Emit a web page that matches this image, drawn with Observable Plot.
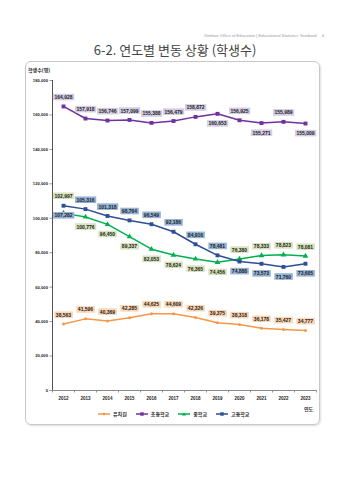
<!DOCTYPE html>
<html><head><meta charset="utf-8">
<script src="https://cdn.jsdelivr.net/npm/d3@7"></script>
<script src="https://cdn.jsdelivr.net/npm/@observablehq/plot@0.6"></script>
<style>
body{margin:0;background:#fff;width:350px;height:480px;position:relative;overflow:hidden;font-family:"Liberation Sans","Noto Sans CJK KR",sans-serif;}
.abs{position:absolute;white-space:nowrap;}
#box{position:absolute;left:25px;top:61px;width:293px;height:362px;border:1px solid #c8c8c8;border-radius:6px;box-shadow:1px 1px 2px #ddd;}
#legend span{display:inline-flex;align-items:center;margin-right:9px;}
</style></head>
<body>
<div class="abs" style="right:26px;top:33px;font-size:4.2px;color:#999;">Gimhae Office of Education | Educational Statistics Yearbook &nbsp;&nbsp; 4</div>
<div class="abs" style="left:0;width:350px;top:40px;text-align:center;font-size:13px;color:#444;font-family:'Noto Sans CJK KR',sans-serif;">6-2. 연도별 변동 상황 (학생수)</div>
<div id="box"></div>
<div class="abs" style="left:28px;top:66px;font-size:5px;font-weight:bold;color:#222;font-family:'Noto Sans CJK KR',sans-serif;">학생수(명)</div>
<div id="chart" class="abs" style="left:0;top:62px;"></div>
<div class="abs" style="left:304px;top:405px;font-size:5px;font-weight:bold;color:#333;font-family:'Noto Sans CJK KR',sans-serif;">연도</div>
<div id="legend" class="abs" style="left:98px;top:410px;font-size:5px;font-weight:bold;color:#222;font-family:'Noto Sans CJK KR',sans-serif;"></div>
<script>
const years = [2012,2013,2014,2015,2016,2017,2018,2019,2020,2021,2022,2023];
const seriesNames = ["유치원","초등학교","중학교","고등학교"];
const kinder = [38563,41596,40369,42285,44625,44609,42326,39375,38318,36178,35427,34777];
const elem   = [164928,157918,156746,157099,155388,156479,158872,160653,156925,155271,155989,155009];
const middle = [102997,100776,96450,89337,82053,78624,76365,74456,76380,78333,78823,78081];
const high   = [107282,105316,101318,98764,96549,92186,84916,78481,74888,73573,71760,73605];
const yTicks = [0,20000,40000,60000,80000,100000,120000,140000,160000,180000];

// label placement relative to each point: a = above, b = below, aa = far above
const kinderPlace = ["a","a","a","a","a","a","a","a","a","a","a","a"];
const elemPlace   = ["a","a","a","a","a","a","a","b","a","b","a","b"];
const middlePlace = ["aa","b","b","b","b","b","b","b","a","a","a","a"];
const highPlace   = ["b","a","a","a","a","a","a","a","b","b","b","b"];

const lineColors = ["#f79646","#7030a0","#00b050","#2e4e96"];
const boxColors  = ["#fcd5b4","#d4cde3","#d8e4bc","#95b3d7"];
const symbols    = ["circle","square","triangle","square"];
const dotR       = [1.5,2.2,2.1,2.2];

const allValues = [kinder, elem, middle, high];
const allPlace = [kinderPlace, elemPlace, middlePlace, highPlace];
const rows = [];
seriesNames.forEach((s, k) => years.forEach((yr, i) => rows.push({series: s, k, year: yr, value: allValues[k][i], place: allPlace[k][i]})));

const fmt = d3.format(",");
const boundaries = d3.range(years.length + 1).map(i => years[0] - 0.5 + i);
const dyOf = {a: -9, b: 10, aa: -17};

const marks = [
  Plot.axisY({ticks: yTicks, tickFormat: fmt, tickSize: 2.5, tickPadding: 2, fontSize: 4.2, fontWeight: "bold", label: null, stroke: "#999"}),
  Plot.axisX({ticks: boundaries, tickFormat: () => "", tickSize: 2.5, label: null, stroke: "#999"}),
  Plot.axisX({ticks: years, tickFormat: d => String(d), tickSize: 0, tickPadding: 6, fontSize: 4.5, fontWeight: "bold", label: null}),
  Plot.ruleY([0], {stroke: "#888", strokeWidth: 1}),
  Plot.ruleX([years[0] - 0.5], {stroke: "#555", strokeWidth: 1}),
];
seriesNames.forEach((s, k) => {
  const d = rows.filter(r => r.k === k);
  marks.push(Plot.line(d, {x: "year", y: "value", stroke: lineColors[k], strokeWidth: 1.5}));
  marks.push(Plot.dot(d, {x: "year", y: "value", symbol: () => symbols[k], fill: lineColors[k], r: dotR[k], stroke: "none"}));
});
const textBoxOrder = [];
seriesNames.forEach((s, k) => {
  ["a","b","aa"].forEach(p => {
    const d = rows.filter(r => r.k === k && r.place === p);
    if (!d.length) return;
    textBoxOrder.push(boxColors[k]);
    marks.push(Plot.text(d, {x: "year", y: "value", text: r => fmt(r.value), dy: dyOf[p], fontSize: 5, fontWeight: "bold", fill: "#222"}));
  });
});

const chart = Plot.plot({
  width: 350, height: 345,
  marginLeft: 52, marginRight: 34, marginTop: 18, marginBottom: 17,
  x: {domain: [years[0] - 0.5, years[years.length - 1] + 0.5]},
  y: {domain: [0, 180000]},
  symbol: {type: "identity"},
  style: {fontFamily: "Liberation Sans, Arial, sans-serif", background: "transparent", color: "#222"},
  marks
});
document.getElementById("chart").appendChild(chart);

// label background boxes (placed in the same coordinate frame as each text)
const svg = d3.select(chart);
svg.selectAll('g[aria-label="text"]').each(function(_, gi) {
  const color = textBoxOrder[gi];
  d3.select(this).selectAll("text").each(function() {
    const bb = this.getBBox();
    const rect = document.createElementNS("http://www.w3.org/2000/svg", "rect");
    const tf = this.getAttribute("transform");
    if (tf) rect.setAttribute("transform", tf);
    rect.setAttribute("x", bb.x - 1.5);
    rect.setAttribute("y", bb.y - 0.3);
    rect.setAttribute("width", bb.width + 3);
    rect.setAttribute("height", bb.height + 0.6);
    rect.setAttribute("fill", color);
    rect.setAttribute("stroke", "none");
    this.parentNode.insertBefore(rect, this);
  });
});

// legend
const shapeSvg = k => {
  const c = lineColors[k];
  let m;
  if (symbols[k] === "square") m = `<rect x="4.3" y="1.3" width="3.4" height="3.4" fill="${c}"/>`;
  else if (symbols[k] === "triangle") m = `<path d="M6 1.2 L8 4.6 L4 4.6 Z" fill="${c}"/>`;
  else m = `<circle cx="6" cy="3" r="1.3" fill="${c}"/>`;
  return `<svg width="12" height="6" style="margin-right:3px"><line x1="0" y1="3" x2="12" y2="3" stroke="${c}" stroke-width="1.5"/>${m}</svg>`;
};
document.getElementById("legend").innerHTML = seriesNames.map((s, k) => `<span>${shapeSvg(k)}${s}</span>`).join("");
</script>
</body></html>
